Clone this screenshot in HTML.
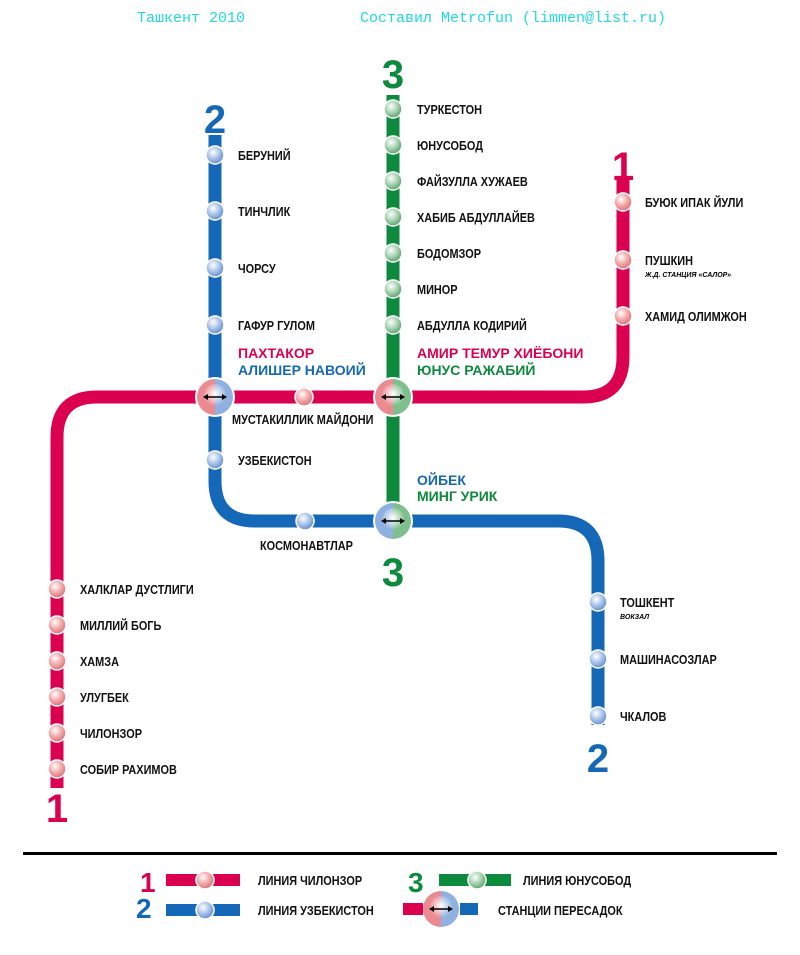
<!DOCTYPE html>
<html><head><meta charset="utf-8"><style>
body{margin:0;background:#fff;}
svg text{font-family:"Liberation Sans","DejaVu Sans",sans-serif;}
.l text{font-size:13px;font-weight:bold;fill:#111;transform-box:fill-box;transform-origin:left center;transform:scaleX(0.84);}
.t{font-family:"Liberation Mono",monospace !important;}
</style></head><body>
<svg width="800" height="950" viewBox="0 0 800 950" xmlns="http://www.w3.org/2000/svg">
<defs>
<radialGradient id="gr" cx="0.4" cy="0.35" r="0.7"><stop offset="0" stop-color="#fff"/><stop offset="0.5" stop-color="#f3a9a9"/><stop offset="1" stop-color="#d96a70"/></radialGradient>
<radialGradient id="gb" cx="0.4" cy="0.35" r="0.7"><stop offset="0" stop-color="#fff"/><stop offset="0.5" stop-color="#a9c3ea"/><stop offset="1" stop-color="#5f86c4"/></radialGradient>
<radialGradient id="gg" cx="0.4" cy="0.35" r="0.7"><stop offset="0" stop-color="#fff"/><stop offset="0.5" stop-color="#a8d3b0"/><stop offset="1" stop-color="#4f9b63"/></radialGradient>
<radialGradient id="gw" cx="0.5" cy="0.45" r="0.55"><stop offset="0" stop-color="#fff" stop-opacity="1"/><stop offset="1" stop-color="#fff" stop-opacity="0"/></radialGradient>
<g id="arr"><line x1="-10" y1="0" x2="10" y2="0" stroke="#000" stroke-width="1.6"/><path d="M-12 0 l5 -3 v6z M12 0 l-5 -3 v6z" fill="#000"/></g>
</defs>
<text class="t" x="137" y="22" font-size="15" fill="#22d8e0">Ташкент 2010</text>
<text class="t" x="360" y="22" font-size="15" fill="#22d8e0">Составил Metrofun (limmen@list.ru)</text>

<path d="M623 178 V357 Q623 397 583 397 H97 Q57 397 57 437 V788" fill="none" stroke="#dc0050" stroke-width="13"/>
<path d="M215 135 V481 Q215 521 255 521 H558 Q598 521 598 561 V725" fill="none" stroke="#1568b8" stroke-width="13"/>
<path d="M393 95 V521" fill="none" stroke="#0e8a3e" stroke-width="13"/>

<g font-weight="bold" font-size="40" text-anchor="middle">
<text x="623" y="180" fill="#dc0050">1</text>
<text x="57" y="822" fill="#dc0050">1</text>
<text x="215" y="133" fill="#1568b8">2</text>
<text x="598" y="772" fill="#1568b8">2</text>
<text x="393" y="88" fill="#0e8a3e">3</text>
<text x="393" y="586" fill="#0e8a3e">3</text>
</g>

<g stroke="#fff" stroke-width="1.5">
<g fill="url(#gr)">
<circle cx="623" cy="202" r="9"/><circle cx="623" cy="260" r="9"/><circle cx="623" cy="316" r="9"/>
<circle cx="304" cy="397" r="9"/>
<circle cx="57" cy="589" r="9"/><circle cx="57" cy="625" r="9"/><circle cx="57" cy="661" r="9"/><circle cx="57" cy="697" r="9"/><circle cx="57" cy="733" r="9"/><circle cx="57" cy="769" r="9"/>
</g>
<g fill="url(#gb)">
<circle cx="215" cy="155" r="9"/><circle cx="215" cy="211" r="9"/><circle cx="215" cy="268" r="9"/><circle cx="215" cy="325" r="9"/><circle cx="215" cy="460" r="9"/>
<circle cx="305" cy="521" r="9"/>
<circle cx="598" cy="602" r="9"/><circle cx="598" cy="659" r="9"/><circle cx="598" cy="716" r="9"/>
</g>
<g fill="url(#gg)">
<circle cx="393" cy="109" r="9"/><circle cx="393" cy="145" r="9"/><circle cx="393" cy="181" r="9"/><circle cx="393" cy="217" r="9"/><circle cx="393" cy="253" r="9"/><circle cx="393" cy="289" r="9"/><circle cx="393" cy="325" r="9"/>
</g>
</g>

<g>
<circle cx="215" cy="397" r="20" fill="#fff"/>
<path d="M215 379 A18 18 0 0 0 215 415Z" fill="#ec8a92"/><path d="M215 379 A18 18 0 0 1 215 415Z" fill="#8fb0e0"/>
<circle cx="215" cy="395" r="11" fill="url(#gw)"/><use href="#arr" x="215" y="397"/>
<circle cx="393" cy="397" r="20" fill="#fff"/>
<path d="M393 379 A18 18 0 0 0 393 415Z" fill="#ec8a92"/><path d="M393 379 A18 18 0 0 1 393 415Z" fill="#7fbf8e"/>
<circle cx="393" cy="395" r="11" fill="url(#gw)"/><use href="#arr" x="393" y="397"/>
<circle cx="393" cy="521" r="20" fill="#fff"/>
<path d="M393 503 A18 18 0 0 0 393 539Z" fill="#8fb0e0"/><path d="M393 503 A18 18 0 0 1 393 539Z" fill="#7fbf8e"/>
<circle cx="393" cy="519" r="11" fill="url(#gw)"/><use href="#arr" x="393" y="521"/>
</g>

<g class="l">
<text x="238" y="160">БЕРУНИЙ</text><text x="238" y="216">ТИНЧЛИК</text><text x="238" y="273">ЧОРСУ</text><text x="238" y="330">ГАФУР ГУЛОМ</text>
<text x="238" y="465">УЗБЕКИСТОН</text><text x="232" y="424">МУСТАКИЛЛИК МАЙДОНИ</text><text x="260" y="550">КОСМОНАВТЛАР</text>
<text x="417" y="114">ТУРКЕСТОН</text><text x="417" y="150">ЮНУСОБОД</text><text x="417" y="186">ФАЙЗУЛЛА ХУЖАЕВ</text><text x="417" y="222">ХАБИБ АБДУЛЛАЙЕВ</text><text x="417" y="258">БОДОМЗОР</text><text x="417" y="294">МИНОР</text><text x="417" y="330">АБДУЛЛА КОДИРИЙ</text>
<text x="645" y="207">БУЮК ИПАК ЙУЛИ</text><text x="645" y="265">ПУШКИН</text><text x="645" y="321">ХАМИД ОЛИМЖОН</text>
<text x="80" y="594">ХАЛКЛАР ДУСТЛИГИ</text><text x="80" y="630">МИЛЛИЙ БОГЬ</text><text x="80" y="666">ХАМЗА</text><text x="80" y="702">УЛУГБЕК</text><text x="80" y="738">ЧИЛОНЗОР</text><text x="80" y="774">СОБИР РАХИМОВ</text>
<text x="620" y="607">ТОШКЕНТ</text><text x="620" y="664">МАШИНАСОЗЛАР</text><text x="620" y="721">ЧКАЛОВ</text>
</g>
<text x="645" y="277" font-size="7" font-style="italic" font-weight="bold">Ж.Д. СТАНЦИЯ «САЛОР»</text>
<text x="620" y="619" font-size="7" font-style="italic" font-weight="bold">ВОКЗАЛ</text>
<g font-size="14" font-weight="bold">
<text x="238" y="358" fill="#dc0050">ПАХТАКОР</text><text x="238" y="375" fill="#1568b8">АЛИШЕР НАВОИЙ</text>
<text x="417" y="358" fill="#dc0050">АМИР ТЕМУР ХИЁБОНИ</text><text x="417" y="375" fill="#0e8a3e">ЮНУС РАЖАБИЙ</text>
<text x="417" y="485" fill="#1568b8">ОЙБЕК</text><text x="417" y="501" fill="#0e8a3e">МИНГ УРИК</text>
</g>

<rect x="23" y="852" width="754" height="3" fill="#000"/>
<g font-weight="bold" font-size="28">
<text x="140" y="892" fill="#dc0050">1</text><text x="136" y="918" fill="#1568b8">2</text><text x="408" y="892" fill="#0e8a3e">3</text>
</g>
<rect x="166" y="874" width="74" height="12" fill="#dc0050"/><circle cx="205" cy="880" r="9" fill="url(#gr)" stroke="#fff" stroke-width="1.5"/>
<rect x="166" y="904" width="74" height="12" fill="#1568b8"/><circle cx="205" cy="910" r="9" fill="url(#gb)" stroke="#fff" stroke-width="1.5"/>
<rect x="439" y="874" width="72" height="12" fill="#0e8a3e"/><circle cx="477" cy="880" r="9" fill="url(#gg)" stroke="#fff" stroke-width="1.5"/>
<rect x="403" y="903" width="20" height="12" fill="#dc0050"/><rect x="460" y="903" width="18" height="12" fill="#1568b8"/>
<path d="M441 891 A18 18 0 0 0 441 927Z" fill="#ec8a92"/><path d="M441 891 A18 18 0 0 1 441 927Z" fill="#8fb0e0"/>
<circle cx="441" cy="907" r="11" fill="url(#gw)"/><use href="#arr" x="441" y="909"/>
<g class="l">
<text x="258" y="885">ЛИНИЯ ЧИЛОНЗОР</text><text x="258" y="915">ЛИНИЯ УЗБЕКИСТОН</text>
<text x="523" y="885">ЛИНИЯ ЮНУСОБОД</text><text x="498" y="915">СТАНЦИИ ПЕРЕСАДОК</text>
</g>
</svg>
</body></html>
